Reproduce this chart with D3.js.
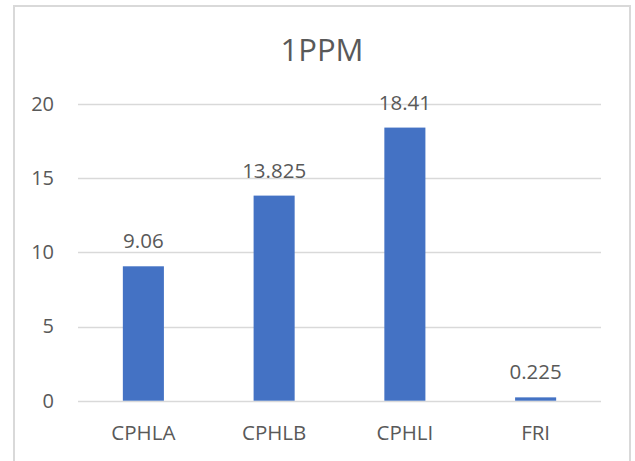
<!DOCTYPE html>
<html>
<head>
<meta charset="utf-8">
<script src="https://cdn.jsdelivr.net/npm/d3@7"></script>
<style>
	body{margin:0;background:#fff;}
	text{font-family:"Open Sans","Noto Sans",sans-serif;fill:#595959;}
</style>
</head>
<body>
<script>
//chart data
var categories=["CPHLA","CPHLB","CPHLI","FRI"];
var values=[9.06,13.825,18.41,0.225];
var valueLabels=["9.06","13.825","18.41","0.225"];
var yTicks=[0,5,10,15,20];
var chartTitle="1PPM";

(function(){
	var width=635,
		height=461;

	var svg=d3.select("body")
		.append("svg")
		.attr("width",width)
		.attr("height",height);

	//outer chart frame (bottom runs past the window)
	svg.append("rect")
		.attr("x",14)
		.attr("y",6)
		.attr("width",616)
		.attr("height",480)
		.attr("fill","#fff")
		.attr("stroke","#d9d9d9")
		.attr("stroke-width",2);

	//plot area
	var left=78,right=601,top=104,bottom=400.7;

	var x=d3.scaleBand()
		.domain(categories)
		.range([left,right])
		.paddingInner(0.686)
		.paddingOuter(0.343);

	var y=d3.scaleLinear()
		.domain([0,20])
		.range([bottom,top]);

	//gridlines
	svg.selectAll(".grid")
		.data(yTicks)
		.enter()
		.append("line")
		.attr("class","grid")
		.attr("x1",left)
		.attr("x2",right)
		.attr("y1",function(d){return Math.round(y(d))+0.5;})
		.attr("y2",function(d){return Math.round(y(d))+0.5;})
		.attr("stroke","#d9d9d9")
		.attr("stroke-width",1.3);

	//y axis labels
	var yAxis=d3.axisLeft(y)
		.tickValues(yTicks)
		.tickSize(0)
		.tickPadding(24);
	var ax=svg.append("g")
		.attr("transform","translate("+left+",0)")
		.call(yAxis);
	ax.select(".domain").remove();
	ax.selectAll("text")
		.attr("font-size",20)
		.attr("font-family",null)
		.attr("fill","#595959");

	//bars
	svg.selectAll(".bar")
		.data(values)
		.enter()
		.append("rect")
		.attr("class","bar")
		.attr("x",function(d,i){return x(categories[i]);})
		.attr("width",x.bandwidth())
		.attr("y",function(d){return y(d);})
		.attr("height",function(d){return bottom-y(d);})
		.attr("fill","#4472c4");

	//value labels
	svg.selectAll(".vlabel")
		.data(values)
		.enter()
		.append("text")
		.attr("class","vlabel")
		.attr("x",function(d,i){return x(categories[i])+x.bandwidth()/2;})
		.attr("y",function(d){return y(d)-18;})
		.attr("text-anchor","middle")
		.attr("font-size",20.5)
		.text(function(d,i){return valueLabels[i];});

	//category labels
	svg.selectAll(".clabel")
		.data(categories)
		.enter()
		.append("text")
		.attr("class","clabel")
		.attr("x",function(d){return x(d)+x.bandwidth()/2;})
		.attr("y",440)
		.attr("text-anchor","middle")
		.attr("font-size",20.5)
		.text(function(d){return d;});

	//title
	svg.append("text")
		.attr("x",322)
		.attr("y",61)
		.attr("text-anchor","middle")
		.attr("font-size",31)
		.text(chartTitle);
})();
</script>
</body>
</html>
